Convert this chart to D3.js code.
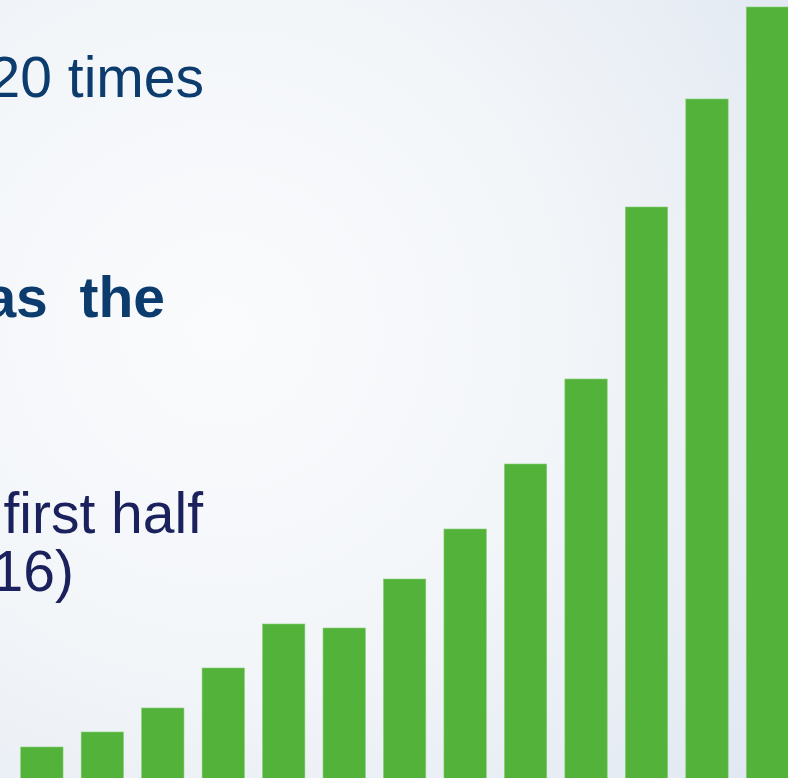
<!DOCTYPE html>
<html>
<head>
<meta charset="utf-8">
<script src="https://cdn.jsdelivr.net/npm/d3@7"></script>
<style>
  html, body { margin: 0; padding: 0; overflow: hidden; background: #f4f7fa; }
  svg { display: block; }
  text { font-family: "Liberation Sans", Arial, sans-serif; white-space: pre; }
</style>
</head>
<body>
<svg id="chart" width="788" height="778"></svg>
<script>
// Data (arbitrary units)
const categories = ["1","2","3","4","5","6","7","8","9","10","11","12","13"];
const values = [31, 46, 70, 110, 154, 150, 199, 249, 314, 399, 571, 679, 771];
const textLines = ["20 times", "as  the", "first half", "16)"];

const W = 788, H = 778;
const svg = d3.select("#chart");

// Background gradient
const defs = svg.append("defs");
const rg = defs.append("radialGradient").attr("id", "bg")
  .attr("gradientUnits", "userSpaceOnUse")
  .attr("cx", 220).attr("cy", 330).attr("r", 720);
rg.append("stop").attr("offset", "0%").attr("stop-color", "#fafbfd");
rg.append("stop").attr("offset", "45%").attr("stop-color", "#f3f6f9");
rg.append("stop").attr("offset", "100%").attr("stop-color", "#e0e7f1");
svg.append("rect").attr("width", W).attr("height", H).attr("fill", "url(#bg)");

// Scales
const x = d3.scaleBand().domain(categories).range([20.7, 788.6])
  .paddingInner(0.3).paddingOuter(0);
const y = d3.scaleLinear().domain([0, 771]).range([778, 7]);

svg.append("g").selectAll("rect").data(values).join("rect")
  .attr("x", (d, i) => x(categories[i]))
  .attr("y", d => y(d))
  .attr("width", x.bandwidth())
  .attr("height", d => y(0) - y(d) + 10)
  .attr("fill", "#52b23a")
  .attr("stroke", "#86cc76")
  .attr("stroke-width", 0.6);

// Text fragments
const tg = svg.append("g").attr("text-anchor", "end").attr("font-size", 57);
tg.append("text").attr("x", 204).attr("y", 97).attr("fill", "#0c3c6d").text(textLines[0]);
tg.append("text").attr("x", 165).attr("y", 317).attr("fill", "#0c3c6d").attr("font-weight", "bold").text(textLines[1]);
tg.append("text").attr("x", 203).attr("y", 533).attr("fill", "#1b215c").text(textLines[2]);
tg.append("text").attr("x", 74).attr("y", 591).attr("fill", "#1b215c").text(textLines[3]);
</script>
</body>
</html>
